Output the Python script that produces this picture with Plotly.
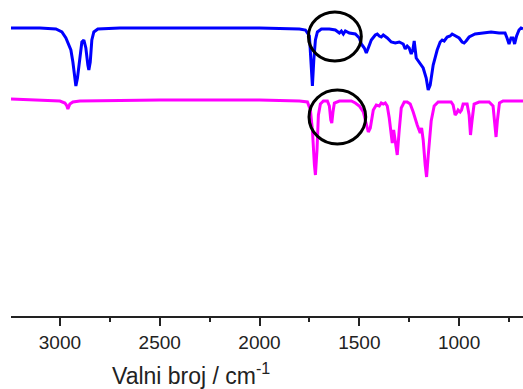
import plotly.graph_objects as go

# Blue spectrum (wavenumber cm-1, transmittance a.u.)
blue_wn = [3245, 3100, 3020, 2990, 2970, 2955, 2945, 2935, 2925, 2920, 2912, 2900, 2890, 2880,
           2870, 2860, 2855, 2848, 2840, 2830, 2810, 2700, 2500, 2300, 2000, 1800, 1770, 1750,
           1742, 1735, 1728, 1720, 1710, 1690, 1650, 1620, 1600, 1590, 1580, 1570, 1550, 1520,
           1500, 1490, 1475, 1465, 1455, 1440, 1420, 1410, 1400, 1390, 1380, 1360, 1340, 1320,
           1300, 1280, 1270, 1260, 1250, 1240, 1232, 1225, 1215, 1200, 1180, 1165, 1155, 1145,
           1130, 1110, 1095, 1085, 1075, 1060, 1045, 1035, 1020, 1000, 985, 975, 965, 950, 920,
           880, 840, 800, 770, 760, 750, 740, 730, 722, 712, 700, 690, 680]
blue_t = [288, 288, 287, 284, 278, 271, 266, 254, 236, 230, 238, 261, 274, 276,
          268, 251, 246, 254, 276, 284, 287, 288, 288, 288, 288, 287, 286, 280,
          256, 230, 256, 276, 284, 287, 287, 286, 283, 285, 282, 285, 283, 282,
          278, 272, 268, 263, 268, 276, 281, 282, 280, 279, 281, 278, 274, 273,
          274, 272, 267, 270, 268, 262, 266, 275, 258, 254, 248, 238, 226, 231,
          251, 266, 274, 276, 275, 279, 280, 282, 280, 278, 274, 273, 275, 279, 282,
          283, 284, 283, 283, 278, 272, 278, 278, 272, 280, 286, 288, 287]

# Magenta spectrum
mag_wn = [3245, 3100, 3000, 2975, 2965, 2960, 2950, 2935, 2900, 2500, 2000, 1800, 1760, 1745,
          1735, 1725, 1720, 1712, 1705, 1695, 1680, 1660, 1650, 1643, 1638, 1632, 1625, 1600,
          1540, 1520, 1500, 1480, 1465, 1455, 1445, 1430, 1415, 1400, 1390, 1380, 1370, 1360,
          1350, 1340, 1335, 1328, 1318, 1310, 1300, 1290, 1275, 1260, 1245, 1230, 1210, 1195,
          1188, 1180, 1170, 1163, 1155, 1140, 1125, 1105, 1060, 1040, 1030, 1020, 1012, 1005,
          995, 988, 980, 960, 950, 943, 935, 925, 900, 850, 830, 820, 815, 808, 798, 780, 700, 680]
mag_t = [217, 216, 215, 213, 210, 207, 212, 214, 215, 216, 216, 215, 214, 206,
         186, 151, 141, 166, 201, 212, 215, 215, 210, 196, 193, 204, 213, 215,
         215, 213, 210, 204, 191, 184, 188, 206, 211, 210, 213, 212, 213, 210,
         198, 178, 173, 186, 171, 161, 186, 208, 214, 214, 212, 204, 191, 183,
         188, 176, 151, 139, 160, 195, 210, 214, 214, 214, 211, 201, 203, 206,
         204, 206, 212, 212, 201, 181, 196, 212, 214, 214, 210, 191, 179, 196, 213, 215, 215, 215]

# Highlight circles (x0, x1, y0, y1 in data units)
circle_x0 = [1755, 1752]
circle_x1 = [1490, 1468]
circle_y0 = [255, 172]
circle_y1 = [304, 226]

x_tickvals = [3000, 2500, 2000, 1500, 1000]
x_title = "Valni broj / cm<sup>-1</sup>"

fig = go.Figure()
fig.add_trace(go.Scatter(x=blue_wn, y=blue_t, mode="lines",
                         line=dict(color="#0000FF", width=3), showlegend=False))
fig.add_trace(go.Scatter(x=mag_wn, y=mag_t, mode="lines",
                         line=dict(color="#FF00FF", width=3), showlegend=False))

for x0, x1, y0, y1 in zip(circle_x0, circle_x1, circle_y0, circle_y1):
    fig.add_shape(type="circle", xref="x", yref="y", x0=x0, x1=x1, y0=y0, y1=y1,
                  line=dict(color="black", width=3))

fig.add_annotation(text=x_title, xref="paper", yref="paper", x=0.193, y=-0.185,
                   xanchor="left", yanchor="middle", showarrow=False,
                   font=dict(family="Arial, Liberation Sans", size=23, color="#222"))

fig.update_layout(
    width=523, height=389,
    margin=dict(l=11, r=0, t=0, b=73),
    plot_bgcolor="white", paper_bgcolor="white",
    font=dict(family="Arial, Liberation Sans", color="#222"),
    xaxis=dict(range=[3245, 680], tickvals=x_tickvals, ticks="outside", ticklen=8,
               tickwidth=2, tickcolor="#222", showline=True, linewidth=2, linecolor="#222",
               showgrid=False, zeroline=False, tickfont=dict(size=19),
               minor=dict(ticks="outside", ticklen=4, tickwidth=2, tickcolor="#222",
                          dtick=250, tick0=0, showgrid=False)),
    yaxis=dict(range=[0, 316], visible=False, showgrid=False, zeroline=False),
)

fig.write_html("out.html")
